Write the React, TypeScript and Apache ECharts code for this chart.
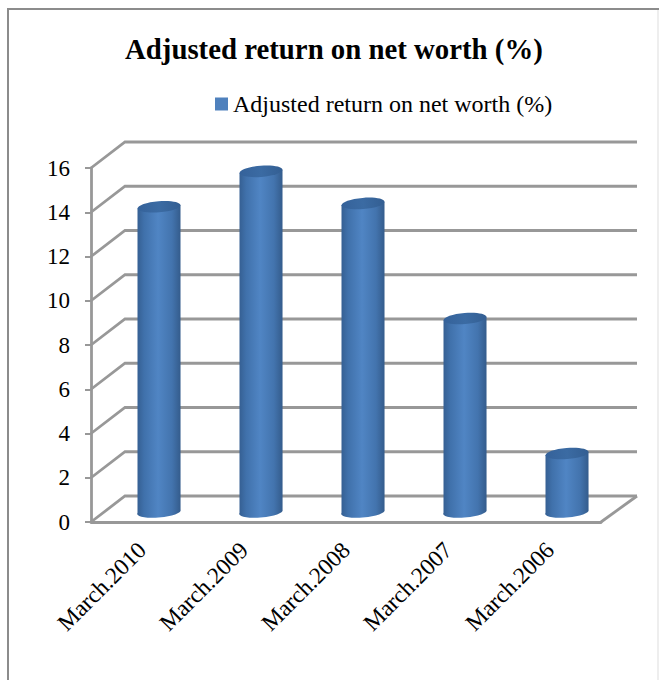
import React, { useEffect, useRef } from "react";
import * as echarts from "echarts";

const categories = ["March.2010", "March.2009", "March.2008", "March.2007", "March.2006"];
const adjustedReturn = [13.75, 15.35, 13.9, 8.7, 2.6];
const wallTicks = [0, 2, 4, 6, 8, 10, 12, 14, 16];
const seriesName = "Adjusted return on net worth (%)";

const SERIF = '"Liberation Serif", "Times New Roman", serif';
const LINE = "#989898";
// Oblique offset between the front of the plot floor and its back wall.
const DEPTH_X = 34;
const DEPTH_Y = 26;
const WALL_EXTRA = 2;

// One wall line per tick: the slanted side wall plus the back wall run.
function renderWallLine(params: any, api: any) {
  const v = api.value(0);
  const y = api.coord([0, v])[1];
  const sys = params.coordSys;
  const left = sys.x;
  const right = sys.x + sys.width;
  const lineStyle = { stroke: LINE, lineWidth: 2.8, fill: null };
  const children: any[] = [
    {
      type: "polyline",
      shape: {
        points: [
          [left, y],
          [left + DEPTH_X, y - DEPTH_Y],
          [right + DEPTH_X + WALL_EXTRA, y - DEPTH_Y],
        ],
      },
      style: lineStyle,
    },
  ];
  if (v === 0) {
    children.push({
      type: "line",
      shape: { x1: right, y1: y, x2: right + DEPTH_X + WALL_EXTRA, y2: y - DEPTH_Y },
      style: lineStyle,
    });
  }
  return { type: "group", children };
}

// Cylinder standing in the middle of the floor depth.
function renderCylinder(_params: any, api: any) {
  const [cx0, yBase] = api.coord([api.value(0), 0]);
  const yTop = api.coord([api.value(0), api.value(1)])[1];
  const cx = cx0 + DEPTH_X / 2;
  const lift = DEPTH_Y / 2 - 2;
  const rx = 21.5;
  const ry = 5.6;
  const tiltDeg = 4.6;
  const rise = rx * Math.sin((tiltDeg * Math.PI) / 180);
  const baseY = yBase - lift;
  const topY = yTop - lift;
  const xl = cx - rx;
  const xr = cx + rx;
  const pathData =
    `M ${xl} ${topY + rise} L ${xl} ${baseY + rise} ` +
    `A ${rx} ${ry} ${-tiltDeg} 0 0 ${xr} ${baseY - rise} ` +
    `L ${xr} ${topY - rise} Z`;
  return {
    type: "group",
    children: [
      {
        type: "path",
        shape: { pathData },
        style: {
          fill: new echarts.graphic.LinearGradient(0, 0, 1, 0, [
            { offset: 0, color: "#355f92" },
            { offset: 0.16, color: "#4071ab" },
            { offset: 0.48, color: "#5085c4" },
            { offset: 0.8, color: "#4374ae" },
            { offset: 1, color: "#345c8c" },
          ]),
        },
      },
      {
        type: "ellipse",
        x: cx,
        y: topY,
        rotation: (tiltDeg * Math.PI) / 180,
        shape: { cx: 0, cy: 0, rx, ry },
        style: {
          fill: new echarts.graphic.LinearGradient(0, 0, 1, 0, [
            { offset: 0, color: "#35629a" },
            { offset: 0.5, color: "#3b6ba3" },
            { offset: 1, color: "#335e92" },
          ]),
        },
      },
    ],
  };
}

export default function App() {
  const ref = useRef<HTMLDivElement>(null);

  useEffect(() => {
    document.body.style.margin = "0";
    const chart = echarts.init(ref.current!, undefined, { renderer: "svg" });
    chart.setOption({
      animation: false,
      backgroundColor: "#ffffff",
      textStyle: { fontFamily: SERIF },
      title: {
        text: seriesName,
        left: 120,
        top: 29,
        textStyle: { fontFamily: SERIF, fontSize: 28.8, fontWeight: "bold", color: "#000000" },
      },
      legend: {
        data: [seriesName],
        left: 210,
        top: 87,
        icon: "rect",
        itemWidth: 13,
        itemHeight: 13,
        itemGap: 2,
        textStyle: { fontFamily: SERIF, fontSize: 24, color: "#000000" },
      },
      grid: { left: 91, top: 168, width: 510, height: 354 },
      xAxis: {
        type: "category",
        data: categories,
        axisLine: { lineStyle: { color: LINE, width: 2.8 } },
        axisTick: { alignWithLabel: false, length: 6, lineStyle: { color: LINE, width: 2 } },
        axisLabel: {
          interval: 0,
          rotate: 45,
          margin: 24,
          fontFamily: SERIF,
          fontSize: 23.5,
          color: "#000000",
        },
      },
      yAxis: {
        type: "value",
        min: 0,
        max: 16,
        interval: 2,
        splitLine: { show: false },
        axisLine: { show: true, lineStyle: { color: LINE, width: 2.8 } },
        axisTick: { show: true, length: 6, lineStyle: { color: LINE, width: 2 } },
        axisLabel: { margin: 21, fontFamily: SERIF, fontSize: 23, color: "#000000" },
      },
      graphic: [
        {
          type: "polyline",
          silent: true,
          shape: { points: [[8, 680], [8, 9], [659, 9]] },
          style: { stroke: "#8c8c8c", lineWidth: 2, fill: null },
        },
        {
          type: "line",
          silent: true,
          shape: { x1: 658, y1: 10, x2: 658, y2: 680 },
          style: { stroke: "#eeeeee", lineWidth: 2 },
        },
      ],
      series: [
        {
          type: "custom",
          name: "wall",
          z: 1,
          clip: false,
          silent: true,
          encode: { y: 0 },
          data: wallTicks.map((v) => [v]),
          renderItem: renderWallLine,
        },
        {
          type: "custom",
          name: seriesName,
          z: 3,
          clip: false,
          silent: true,
          itemStyle: { color: "#4f81bd" },
          encode: { x: 0, y: 1 },
          data: adjustedReturn.map((v, i) => [i, v]),
          renderItem: renderCylinder,
        },
      ],
    });
    return () => chart.dispose();
  }, []);

  return <div ref={ref} style={{ width: 659, height: 680 }} />;
}
